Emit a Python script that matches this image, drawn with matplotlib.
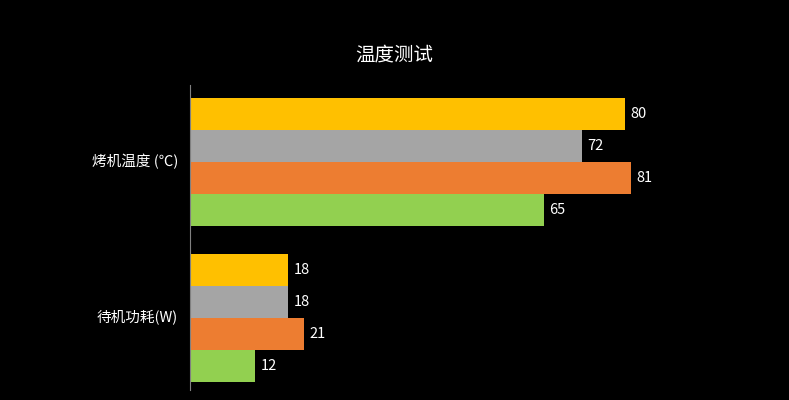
import matplotlib
matplotlib.use("Agg")
import matplotlib.pyplot as plt

plt.rcParams["font.family"] = ["Noto Sans CJK SC", "DejaVu Sans"]

categories = ["烤机温度 (℃)", "待机功耗(W)"]
series_colors = ["#FFC000", "#A5A5A5", "#ED7D31", "#92D050"]
values = [
    [80, 72, 81, 65],   # 烤机温度
    [18, 18, 21, 12],   # 待机功耗
]

fig = plt.figure(figsize=(7.89, 4.0), dpi=100)
fig.patch.set_facecolor("black")
ax = fig.add_axes([190 / 789, 10 / 400, 599 / 789, 305 / 400])
ax.set_facecolor("black")

BAR_H = 32
GROUP_GAP = 28
TOP = 98
for g, vals in enumerate(values):
    start = TOP + g * (4 * BAR_H + GROUP_GAP)
    for i, v in enumerate(vals):
        yc = start + BAR_H * (i + 0.5)
        ax.barh(yc, v, height=BAR_H, color=series_colors[i])
        ax.text(v + 1.0, yc, str(v), color="white", fontsize=10.5, va="center", ha="left")
    ax.text(-2.2, start + 2 * BAR_H, categories[g], color="white", fontsize=10.5,
            va="center", ha="right")

ax.set_xlim(0, 599 / 5.44)
ax.set_ylim(390, 85)
ax.set_xticks([])
ax.set_yticks([])
for s in ("top", "right", "bottom"):
    ax.spines[s].set_visible(False)
ax.spines["left"].set_color("#808080")

fig.text(0.5, 1 - 55 / 400, "温度测试", color="white", fontsize=14, ha="center", va="center")

fig.savefig("out.png", dpi=100, facecolor="black")
